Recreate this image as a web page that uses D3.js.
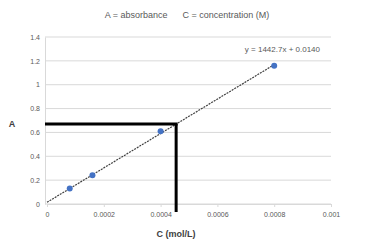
<!DOCTYPE html>
<meta charset="utf-8">
<style>
body { margin: 0; background: #fff; }
text { font-family: "Liberation Sans", Arial, sans-serif; }
.grid line { stroke: #d9d9d9; stroke-width: 1; }
.axis text { fill: #595959; font-size: 7px; }
.axis path, .axis line { stroke: #d9d9d9; }
</style>
<body>
<script src="https://cdn.jsdelivr.net/npm/d3@7"></script>
<script>
// data
var conc = [0.00008, 0.00016, 0.0004, 0.0008];
var absorb = [0.13, 0.24, 0.61, 1.16];
var xTicks = [0, 0.0002, 0.0004, 0.0006, 0.0008, 0.001];
var yTicks = [0, 0.2, 0.4, 0.6, 0.8, 1, 1.2, 1.4];
var slope = 1442.7, intercept = 0.014;
var readA = 0.67; // the read-off value marked by the black lines

var width = 367, height = 245;
var x = d3.scaleLinear().domain([0, 0.001]).range([47, 331]);
var y = d3.scaleLinear().domain([0, 1.4]).range([204, 37]);

var svg = d3.select("body").append("svg")
    .attr("width", width)
    .attr("height", height);

// horizontal gridlines
svg.append("g").attr("class", "grid")
  .selectAll("line").data(yTicks).enter().append("line")
    .attr("x1", 45).attr("x2", x(0.001))
    .attr("y1", function(d) { return y(d); })
    .attr("y2", function(d) { return y(d); });

// y axis
svg.append("g").attr("class", "axis")
    .attr("transform", "translate(45,0)")
    .call(d3.axisLeft(y).tickValues(yTicks).tickSize(0).tickPadding(5)
      .tickFormat(function(d) { return d3.format("")(+d.toFixed(1)); }));

// x axis
svg.append("g").attr("class", "axis")
    .attr("transform", "translate(0," + y(0) + ")")
    .call(d3.axisBottom(x).tickValues(xTicks).tickSize(3).tickSizeOuter(0).tickPadding(5)
      .tickFormat(function(d) { return d === 0 ? "0" : String(+d.toPrecision(2)); }));

// trendline
var xEnd = 0.0008;
svg.append("line")
    .attr("x1", x(0)).attr("y1", y(intercept))
    .attr("x2", x(xEnd)).attr("y2", y(slope * xEnd + intercept))
    .attr("stroke", "#404040")
    .attr("stroke-width", 1.2)
    .attr("stroke-dasharray", "2,1");

// points
svg.selectAll(".pt").data(conc).enter().append("circle")
    .attr("class", "pt")
    .attr("cx", function(d) { return x(d); })
    .attr("cy", function(d, i) { return y(absorb[i]); })
    .attr("r", 3)
    .attr("fill", "#4472c4");

// read-off lines
var readC = (readA - intercept) / slope;
svg.append("line")
    .attr("x1", 45).attr("x2", x(readC) + 1.5)
    .attr("y1", y(readA)).attr("y2", y(readA))
    .attr("stroke", "#000").attr("stroke-width", 3);
svg.append("line")
    .attr("x1", x(readC)).attr("x2", x(readC))
    .attr("y1", y(readA)).attr("y2", 212)
    .attr("stroke", "#000").attr("stroke-width", 3);

// equation
svg.append("text")
    .attr("x", 320).attr("y", 52)
    .attr("text-anchor", "end")
    .attr("fill", "#595959")
    .style("font-size", "8px")
    .text("y = 1442.7x + 0.0140");

// title
svg.append("text")
    .attr("x", 187).attr("y", 18)
    .attr("text-anchor", "middle")
    .attr("fill", "#595959")
    .style("font-size", "9px")
    .attr("xml:space", "preserve")
    .text("A = absorbance      C = concentration (M)");

// axis titles
svg.append("text")
    .attr("x", 12).attr("y", 127)
    .attr("text-anchor", "middle")
    .attr("fill", "#404040")
    .style("font-size", "9px")
    .style("font-weight", "bold")
    .text("A");
svg.append("text")
    .attr("x", 176).attr("y", 237)
    .attr("text-anchor", "middle")
    .attr("fill", "#404040")
    .style("font-size", "9px")
    .style("font-weight", "bold")
    .text("C (mol/L)");
</script>
</body>
